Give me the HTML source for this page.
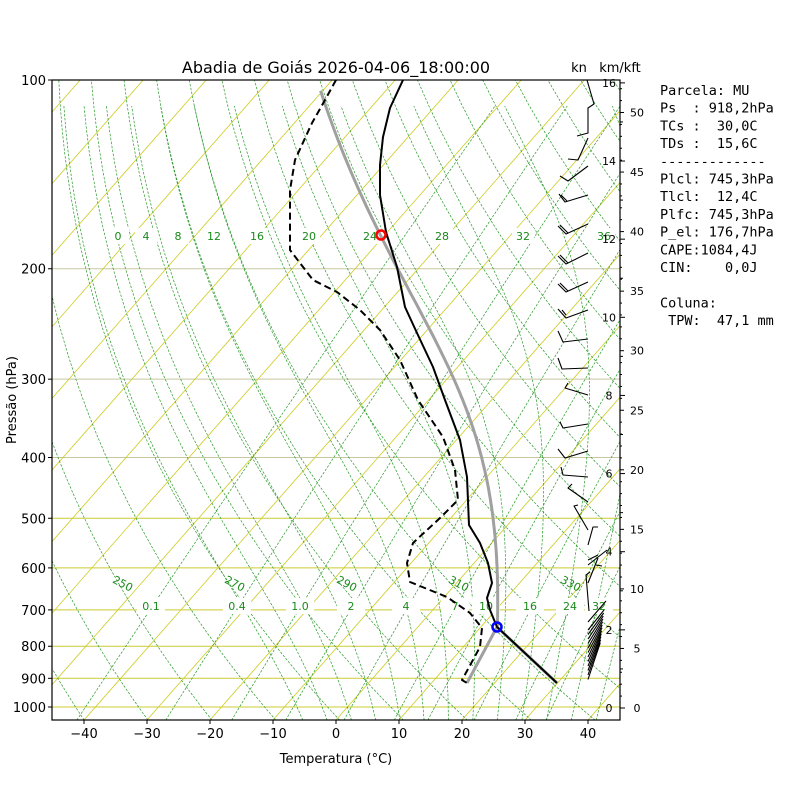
<!DOCTYPE html>
<html><head><meta charset="utf-8"><style>
body{margin:0;background:#fff;width:800px;height:800px;overflow:hidden}
text{font-family:"DejaVu Sans","Liberation Sans",sans-serif}
</style></head><body>
<svg id="s" width="800" height="800" xmlns="http://www.w3.org/2000/svg"></svg>
<script>
const K=0.88;
function py(p){return 80+(Math.log10(p)-2)*627;}
function px(t,y){return 336+6.3*t+K*(720-y);}
let h='<defs><clipPath id="c"><rect x="52" y="80" width="568" height="640"/></clipPath></defs>';
h+='<rect width="800" height="800" fill="#fff"/><g clip-path="url(#c)">';
for(let p=100;p<=1000;p+=100){const y=py(p);h+=`<line x1="52" x2="620" y1="${y}" y2="${y}" stroke="${p<500?'#c8c8a0':'#cccc33'}" stroke-width="1"/>`;}
for(let t=-160;t<=50;t+=10){const x1=px(t,720),x2=px(t,80);h+=`<line x1="${x1}" y1="720" x2="${x2}" y2="80" stroke="#cccc22" stroke-width="0.8"/>`;}
function poly(pts,st){return `<polyline fill="none" stroke-linejoin="round" points="${pts.map(a=>a[0].toFixed(1)+','+a[1].toFixed(1)).join(' ')}" ${st}/>`;}
const G='stroke="#2a9a2a" stroke-width="0.7" stroke-dasharray="2.5,1.5"';
for(let th=230;th<=480;th+=10){let pts=[];for(let p=1050;p>=100;p-=10){const t=th*Math.pow(p/1000,0.286)-273.15;const y=py(p);pts.push([px(t,y),y]);}h+=poly(pts,G);}
function es(tc){return 6.112*Math.exp(17.67*tc/(tc+243.5));}
function dTdp(t,p){const e=es(t-273.15),rs=0.622*e/(p-e);return (287*t+2.501e6*rs)/(1005+2.501e6*2.501e6*rs*0.622/(287*t*t))/p;}
for(let tw=-8;tw<=40;tw+=4){let t=tw+273.15,pts=[];
 let tt=t;for(let q=1000;q<1050;q+=1){tt+=dTdp(tt,q);}
 pts.push([px(tt-273.15,py(1050)),py(1050)]);
 for(let p=1000;p>100;p-=1){if(p%10==0){const y=py(p);pts.push([px(t-273.15,y),y]);}t-=dTdp(t,p);}
 h+=poly(pts,G);}
const W=[0.1,0.4,1,2,4,7,10,16,24,32];
function td(w,p){const e=w/1000*p/(0.622+w/1000),l=Math.log(e/6.112);return 243.5*l/(17.67-l);}
for(const w of W){let pts=[];for(let p=1050;p>=100;p-=20){const y=py(p);pts.push([px(td(w,p),y),y]);}h+=poly(pts,G);}
const ml=[[118,'0'],[146,'4'],[178,'8'],[214,'12'],[257,'16'],[309,'20'],[370,'24'],[442,'28'],[523,'32'],[604,'36']];
for(const [x,s] of ml){h+=`<rect x="${x-11}" y="228" width="22" height="16" fill="#fff"/><text x="${x}" y="240" font-size="11" fill="#1a8a1a" text-anchor="middle">${s}</text>`;}
const wl=[[151,'0.1'],[237,'0.4'],[300,'1.0'],[351,'2'],[406,'4'],[455,'7'],[486,'10'],[530,'16'],[570,'24'],[599,'32']];
for(const [x,s] of wl){h+=`<rect x="${x-14}" y="598" width="28" height="16" fill="#fff"/><text x="${x}" y="610" font-size="11" fill="#1a8a1a" text-anchor="middle">${s}</text>`;}
const dl=[[121,587,'250'],[233,587,'270'],[345,587,'290'],[457,587,'310'],[569,587,'330']];
for(const [x,y,s] of dl){h+=`<text x="${x}" y="${y}" font-size="11" fill="#1a8a1a" text-anchor="middle" transform="rotate(28 ${x} ${y})">${s}</text>`;}
const tp=[[403,80],[390,108],[383,137],[380,165],[380,195],[386,232],[397,267],[405,307],[417,333],[433,367],[445,400],[460,440],[467,477],[469,525],[480,543],[488,563],[492,583],[487,598],[490,610],[497,627],[557,683]];
const dp=[[336,80],[325,100],[312,123],[295,160],[290,190],[290,250],[313,280],[337,292],[360,310],[380,330],[400,360],[418,400],[443,437],[455,470],[458,500],[440,518],[413,543],[407,563],[410,582],[447,597],[470,613],[482,628],[480,647],[462,680],[467,683]];
// parcel moist adiabat from LCL
let pp=[[497,627]];{let t=12.6+273.15;for(let p=745;p>100;p-=1){t-=dTdp(t,p);if(p%5==0){const y=py(p-1);pp.push([px(t-273.15,y),y]);}}}
h+=poly([[557,683],[497,627]],'stroke="#a0a0a0" stroke-width="3"');
h+=poly(pp,'stroke="#a0a0a0" stroke-width="3"');
h+=poly([[497,627],[467,683]],'stroke="#a0a0a0" stroke-width="3"');
h+=poly(tp,'stroke="#000" stroke-width="2"');
h+=poly(dp,'stroke="#000" stroke-width="2" stroke-dasharray="7,4"');
h+=`<circle cx="381" cy="235" r="4.5" fill="none" stroke="#f00" stroke-width="2.5"/><circle cx="497" cy="627" r="4.5" fill="none" stroke="#00f" stroke-width="2.5"/>`;
const bs=[
[[587,80],[594,104],[588,108],[588,133],[577,136]],
[[588,138],[578,160],[568,159]],
[[588,166],[568,181],[560,176]],
[[588,195],[565,202],[559,194]],[[567,201],[561,195]],
[[588,224],[566,234],[558,226]],[[568,233],[560,225]],
[[588,253],[566,264],[558,256]],[[568,263],[560,255]],
[[588,282],[566,292],[558,284]],[[568,291],[560,283]],
[[588,310],[566,318],[558,309]],[[566,315],[562,310]],
[[588,339],[563,342],[558,331]],
[[588,368],[562,369],[558,358]],
[[588,395],[565,388],[568,383]],
[[588,424],[563,428],[560,422]],
[[588,451],[565,458],[558,449]],
[[588,477],[563,475],[561,467]],
[[588,502],[568,488],[572,484]],
[[588,530],[574,506],[578,505]],
[[588,545],[593,527],[598,527]],
[[588,565],[607,550]],[[588,560],[598,555]],
[[588,583],[598,558]],[[596,565],[602,566]],
[[589,611],[586,575],[590,572]],
];
for(const b of bs)h+=poly(b,'stroke="#000" stroke-width="1.1"');
h+=poly([[588,622],[606,601]],'stroke="#000" stroke-width="1.1"');
for(let y=630;y<=683;y+=4.5){const f=(y-630)/53;h+=poly([[588,y],[604-f*4,y-20-f*18]],'stroke="#000" stroke-width="1.1"');}
h+='</g>';
h+='<rect x="52" y="80" width="568" height="640" fill="none" stroke="#000" stroke-width="1.2"/>';
for(let t=-40;t<=40;t+=10){const x=336+6.3*t;h+=`<line x1="${x}" x2="${x}" y1="720" y2="724" stroke="#000"/><text x="${x}" y="738" font-size="13" text-anchor="middle">${t<0?'−'+(-t):t}</text>`;}
for(let p=100;p<=1000;p+=100){const y=py(p);h+=`<line x1="48" x2="52" y1="${y}" y2="${y}" stroke="#000"/><text x="46" y="${y+5}" font-size="13" text-anchor="end">${p}</text>`;}
for(let k=0;k<=16;k++){const y=708-k*39.07;h+=`<line x1="620" x2="${k%2?623:625}" y1="${y}" y2="${y}" stroke="#000"/>`;if(k%2==0)h+=`<text x="609" y="${y+4}" font-size="11" text-anchor="middle">${k}</text>`;}
for(let k=0;k<=52;k++){const y=708-k*11.91;if(y<80)break;h+=`<line x1="620" x2="${k%5?622:624}" y1="${y}" y2="${y}" stroke="#000"/>`;if(k%5==0)h+=`<text x="637" y="${y+4}" font-size="11" text-anchor="middle">${k}</text>`;}
h+=`<text x="336" y="73" font-size="16" text-anchor="middle">Abadia de Goiás 2026-04-06_18:00:00</text>`;
h+=`<text x="579" y="72" font-size="13" text-anchor="middle">kn</text><text x="620" y="72" font-size="13" text-anchor="middle">km/kft</text>`;
h+=`<text x="336" y="763" font-size="13" text-anchor="middle">Temperatura (°C)</text>`;
h+=`<text x="16" y="400" font-size="13" text-anchor="middle" transform="rotate(-90 16 400)">Pressão (hPa)</text>`;
const info=['Parcela: MU','Ps  : 918,2hPa','TCs :  30,0C','TDs :  15,6C','-------------','Plcl: 745,3hPa','Tlcl:  12,4C','Plfc: 745,3hPa','P_el: 176,7hPa','CAPE:1084,4J','CIN:    0,0J','','Coluna:',' TPW:  47,1 mm'];
info.forEach((s,i)=>{h+=`<text x="660" y="${95+i*17.7}" font-size="13.5" xml:space="preserve" style="font-family:'DejaVu Sans Mono','Liberation Mono',monospace">${s}</text>`;});
document.getElementById('s').innerHTML=h;
</script>
</body></html>
